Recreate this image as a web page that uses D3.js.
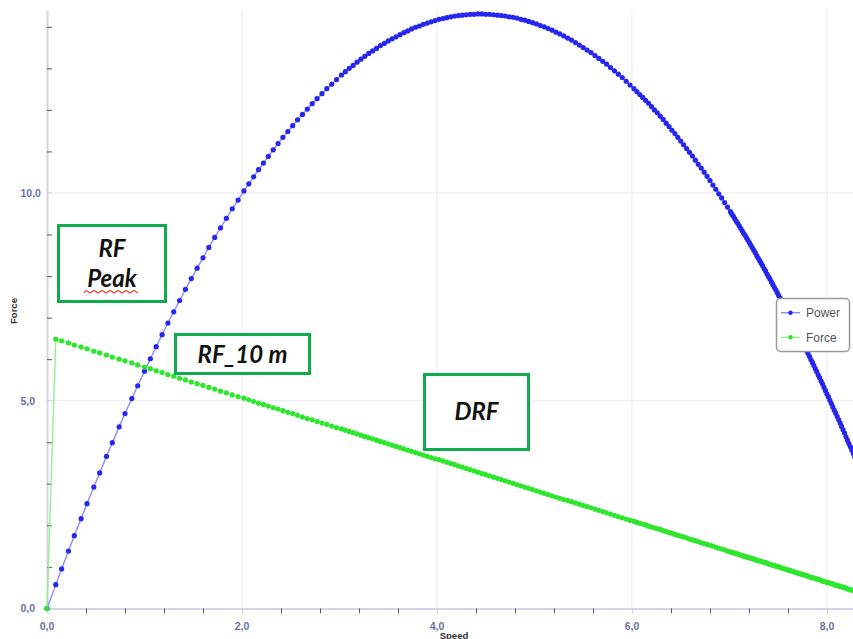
<!DOCTYPE html>
<html>
<head>
<meta charset="utf-8">
<script src="https://cdn.jsdelivr.net/npm/d3@7"></script>
<style>
  body{margin:0;background:#fff;}
  svg{display:block;}
  .tick-label{font-family:"Liberation Sans",Arial,sans-serif;font-size:10.5px;font-weight:bold;fill:#6a70a6;}
  .axis-title{font-family:"Liberation Sans",Arial,sans-serif;font-size:9.5px;font-weight:bold;fill:#333;}
  .legend-text{font-family:"Liberation Sans",Arial,sans-serif;font-size:12px;fill:#555;}
  .note{font-family:Lato,"Open Sans",sans-serif;font-size:24px;font-weight:bold;font-style:italic;fill:#111;}
</style>
</head>
<body>
<div id="chart"></div>
<script>
var svg;
var x;
var y;
const width = 853;
const height = 639;

// speed (x)
const speed = [0,0.09,0.15,0.22,0.28,0.35,0.41,0.48,0.54,0.61,0.67,0.74,0.80,0.87,0.93,1.00,
  1.06,1.12,1.18,1.24,1.30,1.36,1.42,1.48,1.54,1.60,1.66,1.72,1.78,1.84,1.90,1.96,2.02,
  2.07,2.12,2.17,2.22,2.27,2.32,2.37,2.42,2.47,2.52,2.57,2.62,2.67,2.72,2.77,2.82,2.87,2.92,2.97,3.02,
  3.06,3.10,3.14,3.18,3.22,3.26,3.30,3.34,3.38,3.42,3.46,3.50,3.54,3.58,3.62,3.66,3.70,3.74,3.78,3.82,
  3.86,3.90,3.94,3.98,4.02,4.06,4.10,4.14,4.18,4.22,4.26,4.30,4.34,4.38,4.42,4.46,4.50,
  4.54,4.58,4.62,4.66,4.70,4.74,4.78,4.82,4.86,4.90,4.94,4.98,5.02,5.06,5.10,5.14,5.18,5.22,5.26,5.30,
  5.34,5.38,5.42,5.46,5.50,5.54,5.58,5.62,5.66,5.70,5.74,5.78,5.82,5.86,5.90,5.94,5.98,6.02,
  6.05,6.08,6.11,6.14,6.17,6.20,6.23,6.26,6.29,6.32,6.35,6.38,6.41,6.44,6.47,6.50,6.53,6.56,6.59,6.62,
  6.65,6.68,6.71,6.74,6.77,6.80,6.83,6.86,6.89,6.92,6.95,6.98,
  7.01,7.025,7.04,7.055,7.07,7.085,7.10,7.115,7.13,7.145,7.16,7.175,7.19,7.205,7.22,7.235,7.25,7.265,7.28,7.295,
  7.31,7.325,7.34,7.355,7.37,7.385,7.40,7.415,7.43,7.445,7.46,7.475,7.49,7.505,7.52,7.535,7.55,7.565,7.58,7.595,
  7.61,7.625,7.64,7.655,7.67,7.685,7.70,7.715,7.73,7.745,7.76,7.775,7.79,7.805,7.82,7.835,7.85,7.865,7.88,7.895,
  7.91,7.925,7.94,7.955,7.97,7.985,8.00,8.015,8.03,8.045,8.06,8.075,8.09,8.105,8.12,8.135,8.15,8.165,8.18,8.195,
  8.21,8.225,8.24,8.255,8.27,8.285,8.30];

const power = [0,0.57,0.95,1.38,1.75,2.16,2.52,2.92,3.26,3.66,3.99,4.37,4.69,5.05,5.36,5.71,
  6.01,6.30,6.59,6.87,7.14,7.41,7.68,7.94,8.19,8.44,8.69,8.93,9.16,9.39,9.62,9.83,10.05,
  10.22,10.39,10.56,10.72,10.88,11.04,11.19,11.34,11.48,11.62,11.76,11.89,12.02,12.15,12.27,12.39,12.51,12.62,12.73,12.84,
  12.92,13.00,13.07,13.15,13.22,13.29,13.36,13.42,13.48,13.55,13.60,13.66,13.71,13.76,13.81,13.86,13.90,13.95,13.99,14.02,
  14.06,14.09,14.12,14.15,14.18,14.20,14.22,14.24,14.26,14.27,14.28,14.29,14.30,14.30,14.31,14.31,14.30,
  14.30,14.29,14.28,14.27,14.26,14.24,14.23,14.21,14.18,14.16,14.13,14.10,14.07,14.03,14.00,13.96,13.92,13.87,13.83,13.78,
  13.73,13.68,13.62,13.56,13.50,13.44,13.38,13.31,13.24,13.17,13.10,13.02,12.94,12.86,12.78,12.69,12.60,12.51,
  12.44,12.37,12.30,12.23,12.16,12.08,12.00,11.93,11.85,11.77,11.68,11.60,11.51,11.43,11.34,11.25,11.16,11.07,10.98,10.89,
  10.79,10.69,10.60,10.50,10.40,10.30,10.19,10.09,9.98,9.88,9.77,9.66,
  9.55,9.49,9.44,9.38,9.32,9.27,9.21,9.15,9.09,9.03,8.98,8.92,8.86,8.80,8.74,8.68,8.62,8.56,8.49,8.43,
  8.37,8.31,8.25,8.18,8.12,8.05,7.99,7.93,7.86,7.80,7.73,7.67,7.60,7.53,7.47,7.40,7.33,7.27,7.20,7.13,
  7.06,6.99,6.92,6.85,6.78,6.71,6.64,6.57,6.50,6.43,6.36,6.29,6.21,6.14,6.07,5.99,5.92,5.85,5.77,5.70,
  5.62,5.55,5.47,5.40,5.32,5.24,5.16,5.09,5.01,4.93,4.85,4.77,4.70,4.62,4.54,4.46,4.38,4.30,4.22,4.13,
  4.05,3.97,3.89,3.81,3.72,3.64,3.56];

const force = [0,6.48,6.44,6.39,6.34,6.29,6.25,6.19,6.15,6.10,6.05,6.00,5.96,5.91,5.86,5.81,
  5.77,5.72,5.68,5.63,5.59,5.54,5.50,5.45,5.41,5.37,5.32,5.28,5.23,5.19,5.14,5.10,5.06,
  5.02,4.98,4.94,4.91,4.87,4.83,4.80,4.76,4.72,4.69,4.65,4.61,4.57,4.54,4.50,4.46,4.43,4.39,4.35,4.32,
  4.29,4.26,4.23,4.20,4.17,4.14,4.11,4.08,4.05,4.02,3.99,3.96,3.93,3.90,3.87,3.84,3.81,3.78,3.75,3.72,
  3.69,3.66,3.63,3.60,3.58,3.55,3.52,3.49,3.46,3.43,3.40,3.37,3.34,3.31,3.28,3.25,3.22,
  3.19,3.16,3.13,3.10,3.07,3.04,3.01,2.98,2.95,2.92,2.89,2.86,2.83,2.80,2.77,2.74,2.71,2.68,2.65,2.62,
  2.60,2.57,2.54,2.51,2.48,2.45,2.42,2.39,2.36,2.33,2.30,2.27,2.24,2.21,2.18,2.15,2.12,2.10,
  2.07,2.05,2.03,2.01,1.98,1.96,1.94,1.92,1.90,1.87,1.85,1.83,1.81,1.78,1.76,1.74,1.72,1.70,1.67,1.65,
  1.63,1.61,1.58,1.56,1.54,1.52,1.50,1.47,1.45,1.43,1.41,1.38,
  1.36,1.35,1.34,1.33,1.32,1.31,1.30,1.28,1.27,1.26,1.25,1.24,1.23,1.22,1.21,1.20,1.19,1.17,1.16,1.15,
  1.14,1.13,1.12,1.11,1.10,1.09,1.07,1.06,1.05,1.04,1.03,1.02,1.01,1.00,0.99,0.97,0.96,0.95,0.94,0.93,
  0.92,0.91,0.90,0.89,0.87,0.86,0.85,0.84,0.83,0.82,0.81,0.80,0.79,0.77,0.76,0.75,0.74,0.73,0.72,0.71,
  0.70,0.69,0.67,0.66,0.65,0.64,0.63,0.62,0.61,0.60,0.59,0.57,0.56,0.55,0.54,0.53,0.52,0.51,0.50,0.49,
  0.47,0.46,0.45,0.44,0.43,0.42,0.41];

const xMajor = [0,2,4,6,8];
const yMajor = [0,5,10];
const seriesNames = ['Power','Force'];
const notes = [{'lines':['RF','Peak'],'x':58.5,'y':225.5,'w':107,'h':76,'base':[257,287]},
               {'lines':['RF_10 m'],'x':175.5,'y':334.5,'w':134,'h':39,'base':[363]},
               {'lines':['DRF'],'x':424.5,'y':374.5,'w':104,'h':75,'base':[420]}];

const colors = {'Power':{'dot':'#2626ee','line':'#8c8cff'},'Force':{'dot':'#2fe62f','line':'#93ef93'}};
const fmt = d3.formatLocale({'decimal':',','thousands':'.','grouping':[3],'currency':['','']}).format('.1f');

function setup(){
  svg = d3.select('#chart')
          .append('svg')
          .attr('width',width)
          .attr('height',height)
  x = d3.scaleLinear().domain([0,8.27]).range([47,853.3])
  y = d3.scaleLinear().domain([0,14.4]).range([608.4,10.2])
  svg.append('clipPath').attr('id','plot')
     .append('rect').attr('x',44).attr('y',0).attr('width',809).attr('height',612)
}

function drawAxes(){
  let xMinor = d3.range(1,21).map(i => i*0.4).filter(v => Math.abs(v/2 - Math.round(v/2)) > 0.01)
  let yMinor = d3.range(1,15).filter(v => v % 5 != 0)

  // grid
  svg.append('g')
     .selectAll('line')
     .data(xMajor.slice(1))
     .join('line')
     .attr('x1',d => x(d)).attr('x2',d => x(d))
     .attr('y1',y(14.4)).attr('y2',y(0))
     .attr('stroke','#ebebf1').attr('stroke-width',1)
  svg.append('g')
     .selectAll('line')
     .data(yMajor.slice(1))
     .join('line')
     .attr('x1',x(0)).attr('x2',x(8.27))
     .attr('y1',d => y(d)).attr('y2',d => y(d))
     .attr('stroke','#ebebf1').attr('stroke-width',1)

  // x axis
  let gx = svg.append('g').attr('transform',`translate(0,${y(0)})`)
  gx.call(d3.axisBottom(x).tickValues(xMajor).tickSize(5).tickSizeOuter(0).tickFormat(''))
  gx.append('g').call(d3.axisBottom(x).tickValues(xMinor).tickSize(5).tickFormat(''))
    .call(g => g.select('.domain').remove())
    .selectAll('line').attr('stroke','#555')
  gx.select('.domain').attr('stroke','#d3d6e4').attr('stroke-width',2)
  gx.selectAll(':scope > .tick line').attr('stroke','#c8c8d0')

  svg.append('g')
     .selectAll('text')
     .data(xMajor)
     .join('text')
     .attr('class','tick-label')
     .attr('x',d => x(d))
     .attr('y',630)
     .attr('text-anchor','middle')
     .text(d => fmt(d))

  // y axis
  let gy = svg.append('g').attr('transform',`translate(${x(0)},0)`)
  gy.call(d3.axisRight(y).tickValues(yMinor).tickSize(5).tickSizeOuter(0).tickFormat(''))
  gy.select('.domain').attr('stroke','#d3d6e4').attr('stroke-width',2)
  gy.selectAll('.tick line').attr('stroke','#555')
  gy.append('g')
    .selectAll('line')
    .data(yMajor)
    .join('line')
    .attr('x1',0).attr('x2',5)
    .attr('y1',d => y(d)).attr('y2',d => y(d))
    .attr('stroke','#c8c8d0')

  svg.append('g')
     .selectAll('text')
     .data(yMajor)
     .join('text')
     .attr('class','tick-label')
     .attr('x',20.5)
     .attr('y',d => y(d) + 4)
     .text(d => fmt(d))

  svg.append('text')
     .attr('class','axis-title')
     .attr('transform','translate(17,311) rotate(-90)')
     .attr('text-anchor','middle')
     .text('Force')
  svg.append('text')
     .attr('class','axis-title')
     .attr('x',454)
     .attr('y',638.5)
     .attr('text-anchor','middle')
     .text('Speed')
}

function drawSeries(name, values){
  let pts = d3.range(Math.min(speed.length, values.length)).map(i => [speed[i], values[i]])
  let g = svg.append('g').attr('clip-path','url(#plot)')
  g.append('path')
   .datum(pts)
   .attr('fill','none')
   .attr('stroke',colors[name].line)
   .attr('stroke-width',1.4)
   .attr('d',d3.line().x(d => x(d[0])).y(d => y(d[1])))
  g.selectAll('circle')
   .data(pts)
   .join('circle')
   .attr('cx',d => x(d[0]))
   .attr('cy',d => y(d[1]))
   .attr('r',2.6)
   .attr('fill',colors[name].dot)
}

function drawLegend(){
  let lg = svg.append('g')
  lg.append('rect')
    .attr('x',776.5).attr('y',298.5).attr('width',73).attr('height',53).attr('rx',4)
    .attr('fill','#fff').attr('stroke','#9a9a9a').attr('stroke-width',1.5)
  seriesNames.forEach((name,i) => {
    let yy = 312.7 + i*24.6
    lg.append('line').attr('x1',781).attr('x2',800).attr('y1',yy).attr('y2',yy)
      .attr('stroke',colors[name].line).attr('stroke-width',1.4)
    lg.append('circle').attr('cx',790.5).attr('cy',yy).attr('r',2.2).attr('fill',colors[name].dot)
    lg.append('text').attr('class','legend-text').attr('x',806).attr('y',yy + 4.2).text(name)
  })
}

function drawNotes(){
  notes.forEach(n => {
    let g = svg.append('g')
    g.append('rect')
     .attr('x',n.x).attr('y',n.y).attr('width',n.w).attr('height',n.h)
     .attr('fill','#fff').attr('stroke','#10ab4c').attr('stroke-width',3)
    n.lines.forEach((t,i) => {
      g.append('text').attr('class','note')
       .attr('x',n.x + n.w/2).attr('y',n.base[i])
       .attr('text-anchor','middle')
       .text(t)
    })
  })
  // spell-check squiggle under "Peak"
  let zig = d3.path()
  zig.moveTo(84,293)
  for(let i = 0; i < 14; i++){
    zig.lineTo(86 + i*4, i % 2 == 0 ? 290.5 : 293)
  }
  svg.append('path').attr('d',zig.toString()).attr('fill','none')
     .attr('stroke','#f03c3c').attr('stroke-width',1.2)
}

setup()
drawAxes()
drawSeries('Power', power)
drawSeries('Force', force)
drawLegend()
drawNotes()
</script>
</body>
</html>
